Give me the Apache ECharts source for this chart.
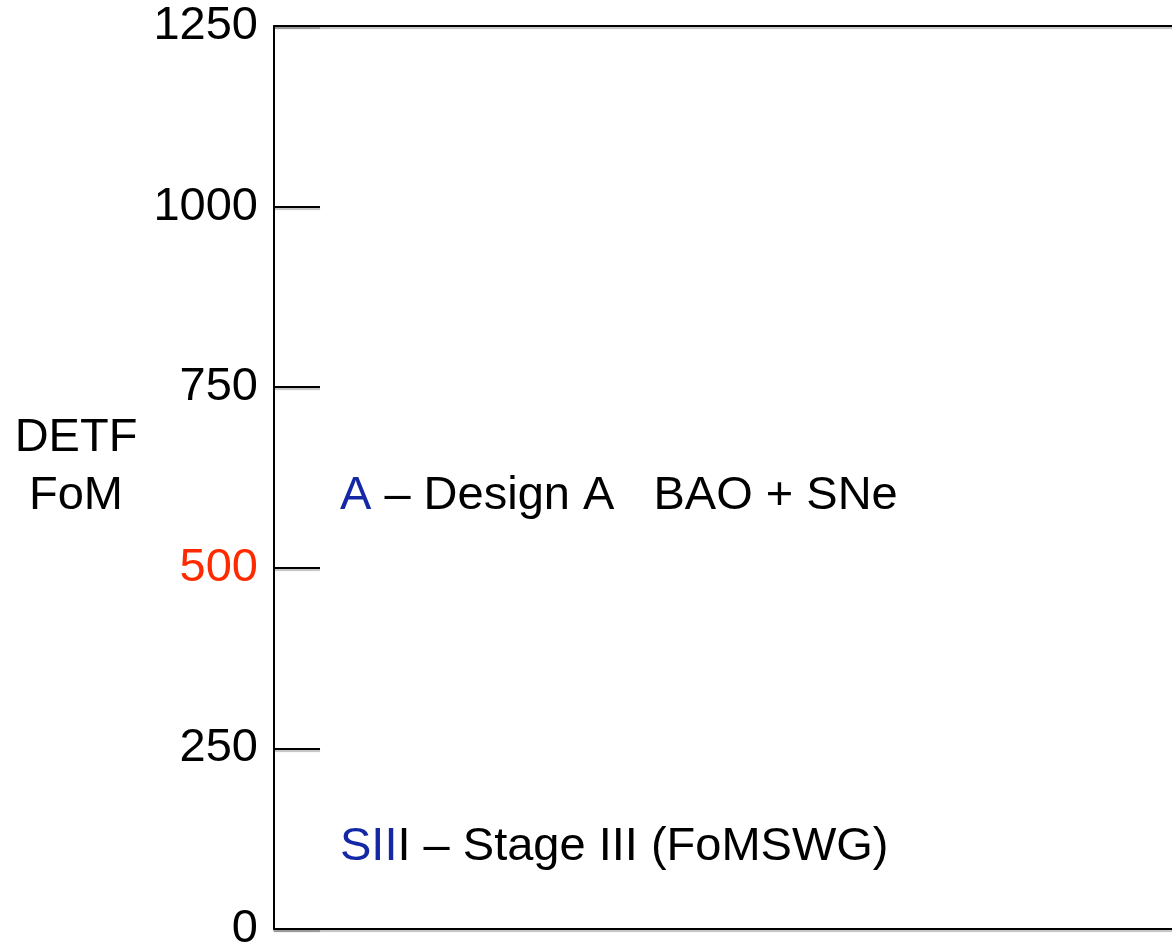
<!DOCTYPE html>
<html><head><meta charset="utf-8">
<script src="https://cdn.jsdelivr.net/npm/echarts@6/dist/echarts.min.js"></script>
<style>html,body{margin:0;padding:0;background:#fff}#c{width:1172px;height:944px}</style>
</head><body><div id="c"></div>
<script>
const yMin = 0;
const yMax = 1250;
const yInterval = 250;
const highlightTick = 500;
const axisNameLines = ['DETF', 'FoM'];
const annotationKeys = ['A', 'SII'];
const annotationRests = [' \u2013 Design A   BAO + SNe', 'I \u2013 Stage III (FoMSWG)'];

const FONT = 'Liberation Sans, Arial, Helvetica, sans-serif';
const FS = 47;
const BLUE = '#1428a6';
const RED = '#ff2a00';
const lineStyle = { color: '#000', width: 2, shadowColor: 'rgba(0,0,0,0.25)', shadowOffsetY: 2, shadowBlur: 1 };

const chart = echarts.init(document.getElementById('c'), null, { renderer: 'canvas' });
const annY = [496, 847];
chart.setOption({
  backgroundColor: '#fff',
  animation: false,
  grid: { left: 274, top: 26, bottom: 15, right: -40, containLabel: false, outerBoundsMode: 'none' },
  xAxis: [
    { type: 'value', min: 0, max: 1, position: 'bottom', axisLine: { show: true, onZero: false, lineStyle }, axisTick: { show: false }, axisLabel: { show: false }, splitLine: { show: false } },
    { type: 'value', min: 0, max: 1, position: 'top', axisLine: { show: true, onZero: false, lineStyle }, axisTick: { show: false }, axisLabel: { show: false }, splitLine: { show: false } }
  ],
  yAxis: {
    type: 'value', min: yMin, max: yMax, interval: yInterval,
    axisLine: { show: true, onZero: false, lineStyle: { color: '#000', width: 2 } },
    axisTick: { show: true, inside: true, length: 46, lineStyle },
    splitLine: { show: false },
    axisLabel: {
      margin: 16, fontSize: FS, fontFamily: FONT, color: '#000',
      formatter: v => v === highlightTick ? '{r|' + v + '}' : '{k|' + v + '}',
      rich: { r: { color: RED, fontSize: FS, fontFamily: FONT }, k: { color: '#000', fontSize: FS, fontFamily: FONT } }
    }
  },
  series: [{ type: 'scatter', data: [], xAxisIndex: 0 }],
  graphic: [
    { type: 'text', x: 76, y: 467, style: { text: axisNameLines.join('\n'), font: FS + 'px ' + FONT, fill: '#000', align: 'center', verticalAlign: 'middle', lineHeight: 58 } },
    ...annotationKeys.map((k, i) => ({
      type: 'text', x: 340, y: annY[i],
      style: {
        text: '{b|' + k + '}{k|' + annotationRests[i] + '}',
        verticalAlign: 'middle',
        rich: { b: { fill: BLUE, fontSize: FS, fontFamily: FONT }, k: { fill: '#000', fontSize: FS, fontFamily: FONT } }
      }
    }))
  ]
});
</script></body></html>
